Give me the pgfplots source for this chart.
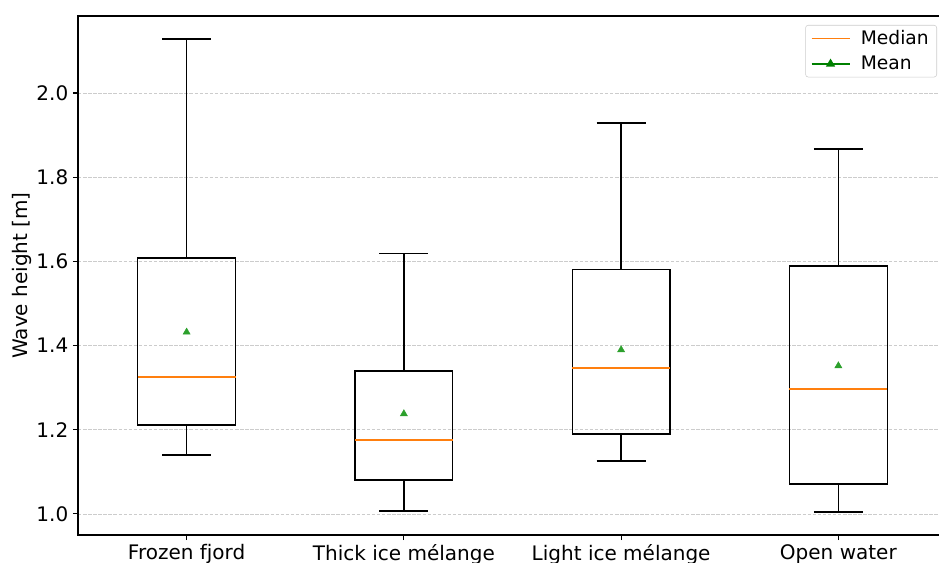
\documentclass[border=0pt]{standalone}
\usepackage{pgfplots}
\pgfplotsset{compat=1.18}
\usepgfplotslibrary{statistics}
\usepackage{fontspec}
\setmainfont{DejaVu Sans}
\definecolor{mplorange}{HTML}{FF7F0E}
\definecolor{mplgreen}{HTML}{2CA02C}
\definecolor{leggreen}{HTML}{008000}
\definecolor{gridgray}{HTML}{CCCCCC}
\begin{document}
\begin{tikzpicture}
\useasboundingbox (-58.5pt,-20.25pt) rectangle (645.75pt,401.25pt);
\clip (-58.5pt,-20.25pt) rectangle (645.75pt,401.25pt);
\begin{axis}[
  scale only axis,
  width=651.75pt, height=389.25pt,
  xmin=0.5, xmax=4.5,
  ymin=0.95, ymax=2.183,
  xtick={1,2,3,4},
  xticklabels={Frozen fjord,Thick ice mélange,Light ice mélange,Open water},
  ytick={1.0,1.2,1.4,1.6,1.8,2.0},
  yticklabel style={/pgf/number format/fixed,/pgf/number format/fixed zerofill,/pgf/number format/precision=1},
  /pgf/number format/assume math mode=true,
  ticklabel style={font=\fontsize{15pt}{18pt}\selectfont},
  tick align=outside, tick pos=left,
  major tick length=3.75pt,
  tick style={black, line width=0.8pt},
  axis line style={line width=0.8pt},
  ymajorgrids,
  major grid style={gridgray, line width=0.6pt, dash pattern=on 2.6pt off 1.2pt},
  ylabel={Wave height [m]},
  ylabel style={font=\fontsize{15pt}{18pt}\selectfont, at={(axis description cs:-0.0645,0.5)}, anchor=center},
  legend style={at={(0.9885,0.9827)}, anchor=north east, draw=gray!40, rounded corners=2pt, fill=white, font=\fontsize{14pt}{16pt}\selectfont, row sep=3pt, inner xsep=4pt, inner ysep=2pt},
  legend cell align=left,
  /tikz/every odd column/.append style={column sep=6pt},
  legend image code/.code={\draw[mark repeat=2,mark phase=2,#1] plot coordinates {(0cm,0cm) (0.5cm,0cm) (1cm,0cm)};},
  boxplot/draw direction=y,
  boxplot/every box/.style={draw=black, line width=1pt},
  boxplot/every whisker/.style={draw=black, line width=1pt},
  boxplot/every median/.style={draw=mplorange, line width=1pt},
]
\addplot[boxplot prepared={draw position=1, lower whisker=1.140, lower quartile=1.211, median=1.325, upper quartile=1.608, upper whisker=2.128, box extend=0.45, whisker extend=0.225}, black, line width=1pt, forget plot] coordinates {};
\addplot[boxplot prepared={draw position=2, lower whisker=1.007, lower quartile=1.081, median=1.176, upper quartile=1.340, upper whisker=1.618, box extend=0.45, whisker extend=0.225}, black, line width=1pt, forget plot] coordinates {};
\addplot[boxplot prepared={draw position=3, lower whisker=1.126, lower quartile=1.190, median=1.347, upper quartile=1.580, upper whisker=1.929, box extend=0.45, whisker extend=0.225}, black, line width=1pt, forget plot] coordinates {};
\addplot[boxplot prepared={draw position=4, lower whisker=1.005, lower quartile=1.071, median=1.297, upper quartile=1.589, upper whisker=1.867, box extend=0.45, whisker extend=0.225}, black, line width=1pt, forget plot] coordinates {};
\addplot[only marks, mark=triangle*, mark size=3pt, mplgreen, forget plot] coordinates {(1,1.432) (2,1.238) (3,1.390) (4,1.352)};
\addlegendimage{mplorange, line width=1pt}
\addlegendentry{Median}
\addlegendimage{leggreen, line width=1pt, mark=triangle*, mark size=3pt, mark options={fill=leggreen}}
\addlegendentry{Mean}
\end{axis}
\end{tikzpicture}
\end{document}
